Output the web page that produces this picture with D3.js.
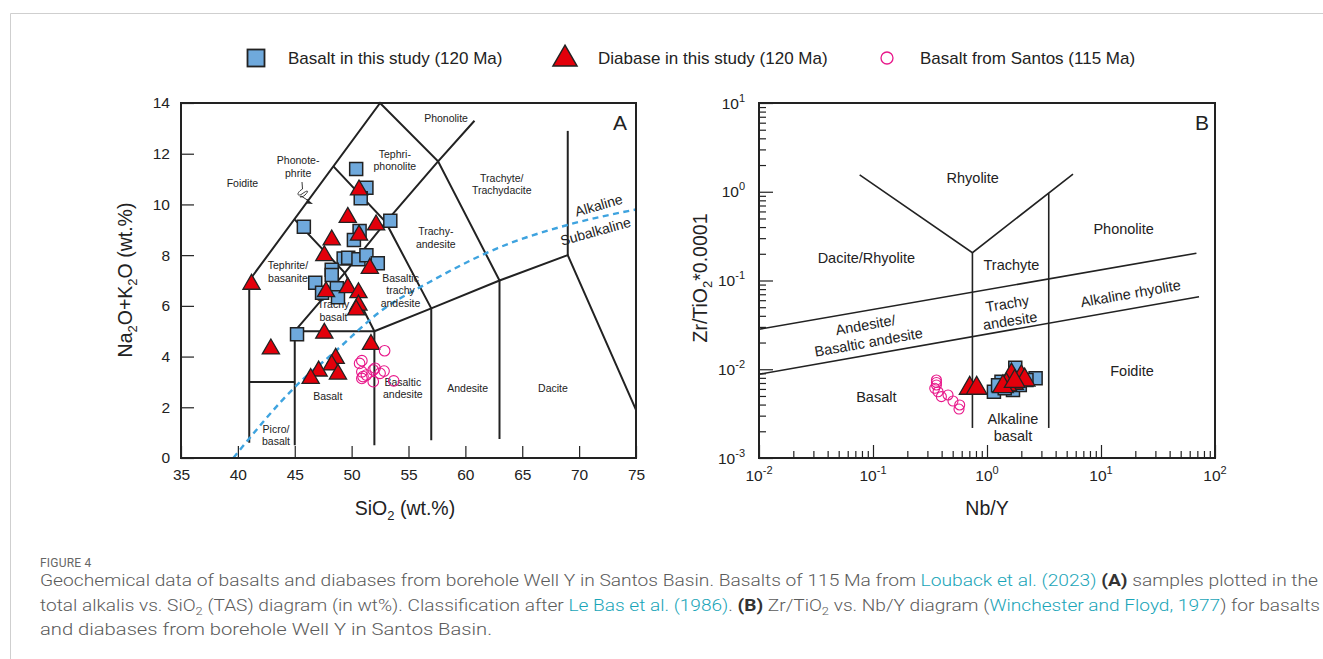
<!DOCTYPE html>
<html>
<head>
<meta charset="utf-8">
<script src="https://cdn.jsdelivr.net/npm/d3@7"></script>
<style>
  html, body { margin: 0; padding: 0; background: #fff; }
  svg { display: block; }
</style>
</head>
<body>
<svg id="fig" width="1323" height="659" font-family="Liberation Sans, Arial, sans-serif"></svg>
<script>
// ---------- data ----------
// Panel A: TAS diagram, [SiO2 wt.%, Na2O+K2O wt.%]
const basaltTAS = [
  [50.4, 11.4], [51.3, 10.66], [50.8, 10.24], [53.4, 9.36], [45.8, 9.12],
  [50.7, 8.95], [50.2, 8.6], [49.3, 7.87], [49.7, 7.9], [50.6, 7.84],
  [51.3, 8.0], [52.3, 7.68], [48.25, 7.42], [48.25, 7.22], [46.8, 6.91],
  [47.4, 6.52], [48.7, 6.69], [48.8, 6.34], [45.2, 4.88]
];
const diabaseTAS = [
  [50.65, 10.57], [49.66, 9.49], [52.15, 9.19], [50.65, 8.79], [48.25, 8.6],
  [47.6, 7.98], [51.6, 7.48], [41.2, 6.85], [47.75, 6.56], [49.66, 6.72],
  [50.6, 6.52], [50.6, 6.03], [50.4, 5.84], [47.6, 4.92], [51.7, 4.48],
  [42.9, 4.3], [48.6, 3.93], [48.25, 3.67], [47.1, 3.43], [48.8, 3.31], [46.4, 3.14]
];
const santosTAS = [
  [52.9, 4.23], [50.9, 3.84], [50.7, 3.73], [50.9, 3.40], [51.0, 3.21],
  [51.3, 3.27], [51.9, 3.47], [52.06, 3.54], [52.5, 3.34], [52.85, 3.43],
  [51.9, 3.01], [53.7, 3.04], [50.9, 3.14]
];

// Panel B: [Nb/Y, Zr/TiO2*0.0001]
const basaltNbY = [
  [1.77, 0.0104], [2.67, 0.0079], [1.15, 0.00558], [1.69, 0.00584], [1.34, 0.00724],
  [2.22, 0.00756], [1.43, 0.0061], [1.94, 0.00665], [1.25, 0.0066]
];
const diabaseNbY = [
  [0.705, 0.0061], [0.812, 0.0061], [1.69, 0.00695], [1.64, 0.00861], [2.0, 0.00824],
  [2.14, 0.00756], [1.48, 0.00665], [1.38, 0.00636], [1.75, 0.0073]
];
const santosNbY = [
  [0.36, 0.00756], [0.36, 0.00665], [0.348, 0.0061], [0.372, 0.00558], [0.398, 0.00491],
  [0.455, 0.00513], [0.503, 0.00439], [0.576, 0.00396], [0.568, 0.00356], [0.36, 0.0071]
];

// Axis ticks
const tasXTicks = [35, 40, 45, 50, 55, 60, 65, 70, 75];
const tasYTicks = [0, 2, 4, 6, 8, 10, 12, 14];
const logExponents = [-2, -1, 0, 1, 2];
const logYExponents = [-3, -2, -1, 0, 1];

// Le Bas et al. (1986) TAS field boundaries
const tasBoundaries = [
  [[41, 0.6], [41, 7], [52.5, 14], [57.6, 11.7], [63, 7]],
  [[41, 3], [45, 3]],
  [[45, 0.5], [45, 5], [52, 5]],
  [[52, 0.5], [52, 5], [57, 5.9], [63, 7], [69, 8], [75, 1.9]],
  [[57, 0.7], [57, 5.9]],
  [[63, 0.75], [63, 7]],
  [[45, 9.4], [49.4, 7.3], [52, 5]],
  [[45, 5], [49.4, 7.3], [53, 9.3], [57.6, 11.7], [60.8, 13.3]],
  [[48.4, 11.5], [53, 9.3], [57, 5.9]],
  [[69, 12.9], [69, 8]]
];
// Alkaline / subalkaline divide
const alkalineDivide = [
  [39.6, 0.0], [45.2, 2.88], [48.7, 4.26], [52.5, 5.77], [56.9, 6.95],
  [62.8, 8.27], [68.9, 9.18], [75, 9.8]
];
const tasFieldLabels = [
  { t: ["Phonolite"], x: 58.3, y: 13.25 },
  { t: ["Tephri-", "phonolite"], x: 53.8, y: 11.85 },
  { t: ["Phonote-", "phrite"], x: 45.3, y: 11.6 },
  { t: ["Foidite"], x: 40.4, y: 10.7 },
  { t: ["Trachyte/", "Trachydacite"], x: 63.2, y: 10.9 },
  { t: ["Trachy-", "andesite"], x: 57.4, y: 8.8 },
  { t: ["Tephrite/", "basanite"], x: 44.4, y: 7.45 },
  { t: ["Basaltic", "trachy", "andesite"], x: 54.3, y: 6.95 },
  { t: ["Trachy", "basalt"], x: 48.4, y: 5.9 },
  { t: ["Basalt"], x: 47.9, y: 2.3 },
  { t: ["Basaltic", "andesite"], x: 54.5, y: 2.85 },
  { t: ["Andesite"], x: 60.2, y: 2.6 },
  { t: ["Dacite"], x: 67.7, y: 2.6 },
  { t: ["Picro/", "basalt"], x: 43.35, y: 1.0 }
];

// Winchester & Floyd (1977) field boundaries
const nbyBoundaries = [
  [[0.0764, 1.55], [0.745, 0.206], [5.68, 1.58]],
  [[0.745, 0.206], [0.745, 0.00218]],
  [[3.48, 0.96], [3.48, 0.00218]],
  [[0.01, 0.0282], [68.7, 0.203]],
  [[0.01, 0.00878], [72.4, 0.0656]]
];
const nbyFieldLabels = [
  { t: ["Rhyolite"], x: 0.75, y: 1.24, r: 0 },
  { t: ["Dacite/Rhyolite"], x: 0.0875, y: 0.156, r: 0 },
  { t: ["Trachyte"], x: 1.64, y: 0.131, r: 0 },
  { t: ["Phonolite"], x: 15.8, y: 0.334, r: 0 },
  { t: ["Trachy", "andesite"], x: 1.53, y: 0.0483, r: -9 },
  { t: ["Alkaline rhyolite"], x: 18.5, y: 0.0627, r: -10 },
  { t: ["Andesite/", "Basaltic andesite"], x: 0.0875, y: 0.0277, r: -10 },
  { t: ["Basalt"], x: 0.107, y: 0.00428, r: 0 },
  { t: ["Alkaline", "basalt"], x: 1.69, y: 0.00242, r: 0 },
  { t: ["Foidite"], x: 18.7, y: 0.0084, r: 0 }
];

// ---------- styles ----------
const INK = "#222";
const BLUE = "#6fa9dc";
const RED = "#e3000b";
const PINK = "#e8178a";
const DASH = "#3ea3df";

const svg = d3.select("#fig");

// page border
svg.append("path").attr("d", "M10.5,659 V13.5 H1323")
  .attr("fill", "none").attr("stroke", "#cfcfcf").attr("stroke-width", 1);

// ---------- legend ----------
const legend = svg.append("g");
legend.append("rect").attr("x", 247.5).attr("y", 49.5).attr("width", 17).attr("height", 17)
  .attr("fill", BLUE).attr("stroke", INK).attr("stroke-width", 1.8);
legend.append("text").attr("x", 288).attr("y", 63.5).attr("font-size", 17).attr("fill", INK)
  .text("Basalt in this study (120 Ma)");
legend.append("path").attr("d", d3.symbol(d3.symbolTriangle, 250)())
  .attr("transform", "translate(565,59)")
  .attr("fill", RED).attr("stroke", INK).attr("stroke-width", 1.5);
legend.append("text").attr("x", 598).attr("y", 63.5).attr("font-size", 17).attr("fill", INK)
  .text("Diabase in this study (120 Ma)");
legend.append("circle").attr("cx", 887).attr("cy", 58).attr("r", 6)
  .attr("fill", "none").attr("stroke", PINK).attr("stroke-width", 1.3);
legend.append("text").attr("x", 920).attr("y", 63.5).attr("font-size", 17).attr("fill", INK)
  .text("Basalt from Santos (115 Ma)");

// ---------- panel A ----------
const xA = d3.scaleLinear().domain([35, 75]).range([181, 636]);
const yA = d3.scaleLinear().domain([0, 14]).range([458, 103]);
const gA = svg.append("g");

gA.append("g").attr("transform", "translate(181,0)")
  .call(d3.axisLeft(yA).tickValues(tasYTicks).tickSize(-13).tickPadding(11).tickFormat(d3.format("d")))
  .call(g => g.select(".domain").remove())
  .call(g => g.selectAll("line").attr("stroke", INK).attr("stroke-width", 1.2))
  .call(g => g.selectAll("text").attr("font-size", 15.5).attr("fill", INK)
    .attr("font-family", "Liberation Sans, Arial, sans-serif"));
gA.append("g").attr("transform", "translate(0,458)")
  .call(d3.axisBottom(xA).tickValues(tasXTicks).tickSize(-12).tickPadding(11).tickFormat(d3.format("d")))
  .call(g => g.select(".domain").remove())
  .call(g => g.selectAll("line").attr("stroke", INK).attr("stroke-width", 1.2))
  .call(g => g.selectAll("text").attr("font-size", 15.5).attr("fill", INK)
    .attr("font-family", "Liberation Sans, Arial, sans-serif"));

const lineA = d3.line().x(d => xA(d[0])).y(d => yA(d[1]));
gA.selectAll("path.field").data(tasBoundaries).join("path").attr("class", "field")
  .attr("d", lineA).attr("fill", "none").attr("stroke", INK).attr("stroke-width", 2)
  .attr("stroke-linejoin", "miter");

// alkaline / subalkaline curve
gA.append("path").datum(alkalineDivide)
  .attr("d", d3.line().x(d => xA(d[0])).y(d => yA(d[1])).curve(d3.curveMonotoneX))
  .attr("fill", "none").attr("stroke", DASH).attr("stroke-width", 2.4)
  .attr("stroke-dasharray", "6,4.5");

// field names
tasFieldLabels.forEach(f => {
  const t = gA.append("text").attr("text-anchor", "middle").attr("font-size", 10.5).attr("fill", INK);
  f.t.forEach((s, i) => t.append("tspan").attr("x", xA(f.x)).attr("y", yA(f.y) + i * 12.7).text(s));
});

// phonotephrite pointer
gA.append("path")
  .attr("d", "M302,182 L302.5,189 C296,193 297,197 302,194 C307,190 310,190 305,195 C302,198 298,197 301,196 L309,201")
  .attr("fill", "none").attr("stroke", INK).attr("stroke-width", 0.9);
gA.append("path").attr("d", "M307,199 L313,204 L306.5,203.5 Z").attr("fill", INK);

gA.append("text").attr("font-size", 14).attr("fill", INK).attr("text-anchor", "middle")
  .attr("x", 600).attr("y", 210).attr("transform", "rotate(-16,600,210)").text("Alkaline");
gA.append("text").attr("font-size", 14).attr("fill", INK).attr("text-anchor", "middle")
  .attr("x", 597).attr("y", 236).attr("transform", "rotate(-15.5,597,236)").text("Subalkaline");

// markers
const sqA = d3.symbol(d3.symbolSquare, 169)();
const triA = d3.symbol(d3.symbolTriangle, 128)();
gA.selectAll("path.bas").data(basaltTAS).join("path").attr("class", "bas")
  .attr("d", sqA).attr("transform", d => `translate(${xA(d[0])},${yA(d[1])})`)
  .attr("fill", BLUE).attr("stroke", INK).attr("stroke-width", 1.5);
gA.selectAll("path.dia").data(diabaseTAS).join("path").attr("class", "dia")
  .attr("d", triA).attr("transform", d => `translate(${xA(d[0])},${yA(d[1])})`)
  .attr("fill", RED).attr("stroke", INK).attr("stroke-width", 1.3);
gA.selectAll("circle.san").data(santosTAS).join("circle").attr("class", "san")
  .attr("cx", d => xA(d[0])).attr("cy", d => yA(d[1])).attr("r", 5.3)
  .attr("fill", "none").attr("stroke", PINK).attr("stroke-width", 1.1);

gA.append("rect").attr("x", 181).attr("y", 103).attr("width", 455).attr("height", 355)
  .attr("fill", "none").attr("stroke", INK).attr("stroke-width", 2);
gA.append("text").attr("x", 620).attr("y", 130).attr("font-size", 21).attr("fill", INK)
  .attr("text-anchor", "middle").text("A");

// axis titles
const tA = gA.append("text").attr("x", 405).attr("y", 515).attr("font-size", 19.5)
  .attr("fill", INK).attr("text-anchor", "middle");
tA.append("tspan").text("SiO");
tA.append("tspan").attr("font-size", 13).attr("dy", 5).text("2");
tA.append("tspan").attr("dy", -5).text(" (wt.%)");

const tAy = gA.append("text").attr("transform", "translate(132,280) rotate(-90)")
  .attr("font-size", 19.5).attr("fill", INK).attr("text-anchor", "middle");
tAy.append("tspan").text("Na");
tAy.append("tspan").attr("font-size", 13).attr("dy", 5).text("2");
tAy.append("tspan").attr("dy", -5).text("O+K");
tAy.append("tspan").attr("font-size", 13).attr("dy", 5).text("2");
tAy.append("tspan").attr("dy", -5).text("O (wt.%)");

// ---------- panel B ----------
const xB = d3.scaleLog().domain([0.01, 100]).range([759, 1215]);
const yB = d3.scaleLog().domain([0.001, 10]).range([458, 103]);
const gB = svg.append("g");

const minorX = [], minorY = [];
for (let e = -2; e < 2; e++) for (let m = 2; m <= 9; m++) minorX.push(m * Math.pow(10, e));
for (let e = -3; e < 1; e++) for (let m = 2; m <= 9; m++) minorY.push(m * Math.pow(10, e));
const majorX = logExponents.map(e => Math.pow(10, e));
const majorY = logYExponents.map(e => Math.pow(10, e));

gB.append("g").attr("transform", "translate(759,0)")
  .call(d3.axisLeft(yB).tickValues(minorY).tickSize(-7).tickFormat(""))
  .call(g => g.select(".domain").remove());
gB.append("g").attr("transform", "translate(759,0)")
  .call(d3.axisLeft(yB).tickValues(majorY).tickSize(-14).tickFormat(""))
  .call(g => g.select(".domain").remove());
gB.append("g").attr("transform", "translate(0,458)")
  .call(d3.axisBottom(xB).tickValues(minorX).tickSize(-7).tickFormat(""))
  .call(g => g.select(".domain").remove());
gB.append("g").attr("transform", "translate(0,458)")
  .call(d3.axisBottom(xB).tickValues(majorX).tickSize(-13).tickFormat(""))
  .call(g => g.select(".domain").remove());
gB.selectAll(".tick line").attr("stroke", INK).attr("stroke-width", 1.2);

// power-of-ten tick labels
logExponents.forEach(e => {
  const t = gB.append("text").attr("x", xB(Math.pow(10, e))).attr("y", 481)
    .attr("text-anchor", "middle").attr("font-size", 15.5).attr("fill", INK);
  t.append("tspan").text("10");
  t.append("tspan").attr("font-size", 11).attr("dy", -7).text(String(e));
});
logYExponents.forEach(e => {
  const t = gB.append("text").attr("x", 745).attr("y", yB(Math.pow(10, e)) + 5.5)
    .attr("text-anchor", "end").attr("font-size", 15.5).attr("fill", INK);
  t.append("tspan").text("10");
  t.append("tspan").attr("font-size", 11).attr("dy", -7).text(String(e));
});

const lineB = d3.line().x(d => xB(d[0])).y(d => yB(d[1]));
gB.selectAll("path.field").data(nbyBoundaries).join("path").attr("class", "field")
  .attr("d", lineB).attr("fill", "none").attr("stroke", INK).attr("stroke-width", 1.6);

nbyFieldLabels.forEach(f => {
  const cx = xB(f.x), cy = yB(f.y);
  const t = gB.append("text").attr("text-anchor", "middle").attr("font-size", 14.5).attr("fill", INK)
    .attr("transform", `rotate(${f.r},${cx},${cy})`);
  f.t.forEach((s, i) => t.append("tspan").attr("x", cx).attr("y", cy + i * 17.5).text(s));
});

const sqB = d3.symbol(d3.symbolSquare, 169)();
const triB = d3.symbol(d3.symbolTriangle, 185)();
gB.selectAll("path.bas").data(basaltNbY).join("path").attr("class", "bas")
  .attr("d", sqB).attr("transform", d => `translate(${xB(d[0])},${yB(d[1])})`)
  .attr("fill", BLUE).attr("stroke", INK).attr("stroke-width", 1.5);
gB.selectAll("path.dia").data(diabaseNbY).join("path").attr("class", "dia")
  .attr("d", triB).attr("transform", d => `translate(${xB(d[0])},${yB(d[1])})`)
  .attr("fill", RED).attr("stroke", INK).attr("stroke-width", 1.3);
gB.selectAll("circle.san").data(santosNbY).join("circle").attr("class", "san")
  .attr("cx", d => xB(d[0])).attr("cy", d => yB(d[1])).attr("r", 5)
  .attr("fill", "none").attr("stroke", PINK).attr("stroke-width", 1.1);

gB.append("rect").attr("x", 759).attr("y", 103).attr("width", 456).attr("height", 355)
  .attr("fill", "none").attr("stroke", INK).attr("stroke-width", 2);
gB.append("text").attr("x", 1202).attr("y", 130).attr("font-size", 21).attr("fill", INK)
  .attr("text-anchor", "middle").text("B");

gB.append("text").attr("x", 987).attr("y", 515).attr("font-size", 19.5).attr("fill", INK)
  .attr("text-anchor", "middle").text("Nb/Y");
const tBy = gB.append("text").attr("transform", "translate(707,278) rotate(-90)")
  .attr("font-size", 19.5).attr("fill", INK).attr("text-anchor", "middle");
tBy.append("tspan").text("Zr/TiO");
tBy.append("tspan").attr("font-size", 13).attr("dy", 5).text("2");
tBy.append("tspan").attr("dy", -5).text("*0.0001");

// ---------- caption ----------
const CAP = "#5b5b5b", LINK = "#1aa5b8";
svg.append("text").attr("x", 40).attr("y", 567).attr("font-family", "Roboto, sans-serif")
  .attr("font-size", 12).attr("fill", "#666").attr("letter-spacing", 0.2).text("FIGURE 4");

const captionLines = [
  { y: 586, w: 1278, parts: [
    ["Geochemical data of basalts and diabases from borehole Well Y in Santos Basin. Basalts of 115 Ma from ", CAP],
    ["Louback et al. (2023)", LINK], [" ", CAP], ["(A)", "#333", "bold"],
    [" samples plotted in the", CAP]] },
  { y: 611, w: 1280, parts: [
    ["total alkalis vs. SiO", CAP], ["2", CAP, null, "sub"], [" (TAS) diagram (in wt%). Classification after ", CAP],
    ["Le Bas et al. (1986)", LINK], [". ", CAP], ["(B)", "#333", "bold"], [" Zr/TiO", CAP], ["2", CAP, null, "sub"],
    [" vs. Nb/Y diagram (", CAP], ["Winchester and Floyd, 1977", LINK],
    [") for basalts", CAP]] },
  { y: 635, w: 452, parts: [["and diabases from borehole Well Y in Santos Basin.", CAP]] }
];
captionLines.forEach(line => {
  const t = svg.append("text").attr("x", 40).attr("y", line.y)
    .attr("font-family", "Roboto, sans-serif").attr("font-weight", 300).attr("font-size", 17);
  let shifted = false;
  line.parts.forEach(p => {
    const s = t.append("tspan").attr("fill", p[1]).text(p[0]);
    if (p[2]) s.attr("font-weight", 700);
    if (p[3] === "sub") { s.attr("dy", 4).attr("font-size", 11.5); shifted = true; }
    else if (shifted) { s.attr("dy", -4); shifted = false; }
  });
  t.attr("textLength", line.w).attr("lengthAdjust", "spacingAndGlyphs");
});
</script>
</body>
</html>
